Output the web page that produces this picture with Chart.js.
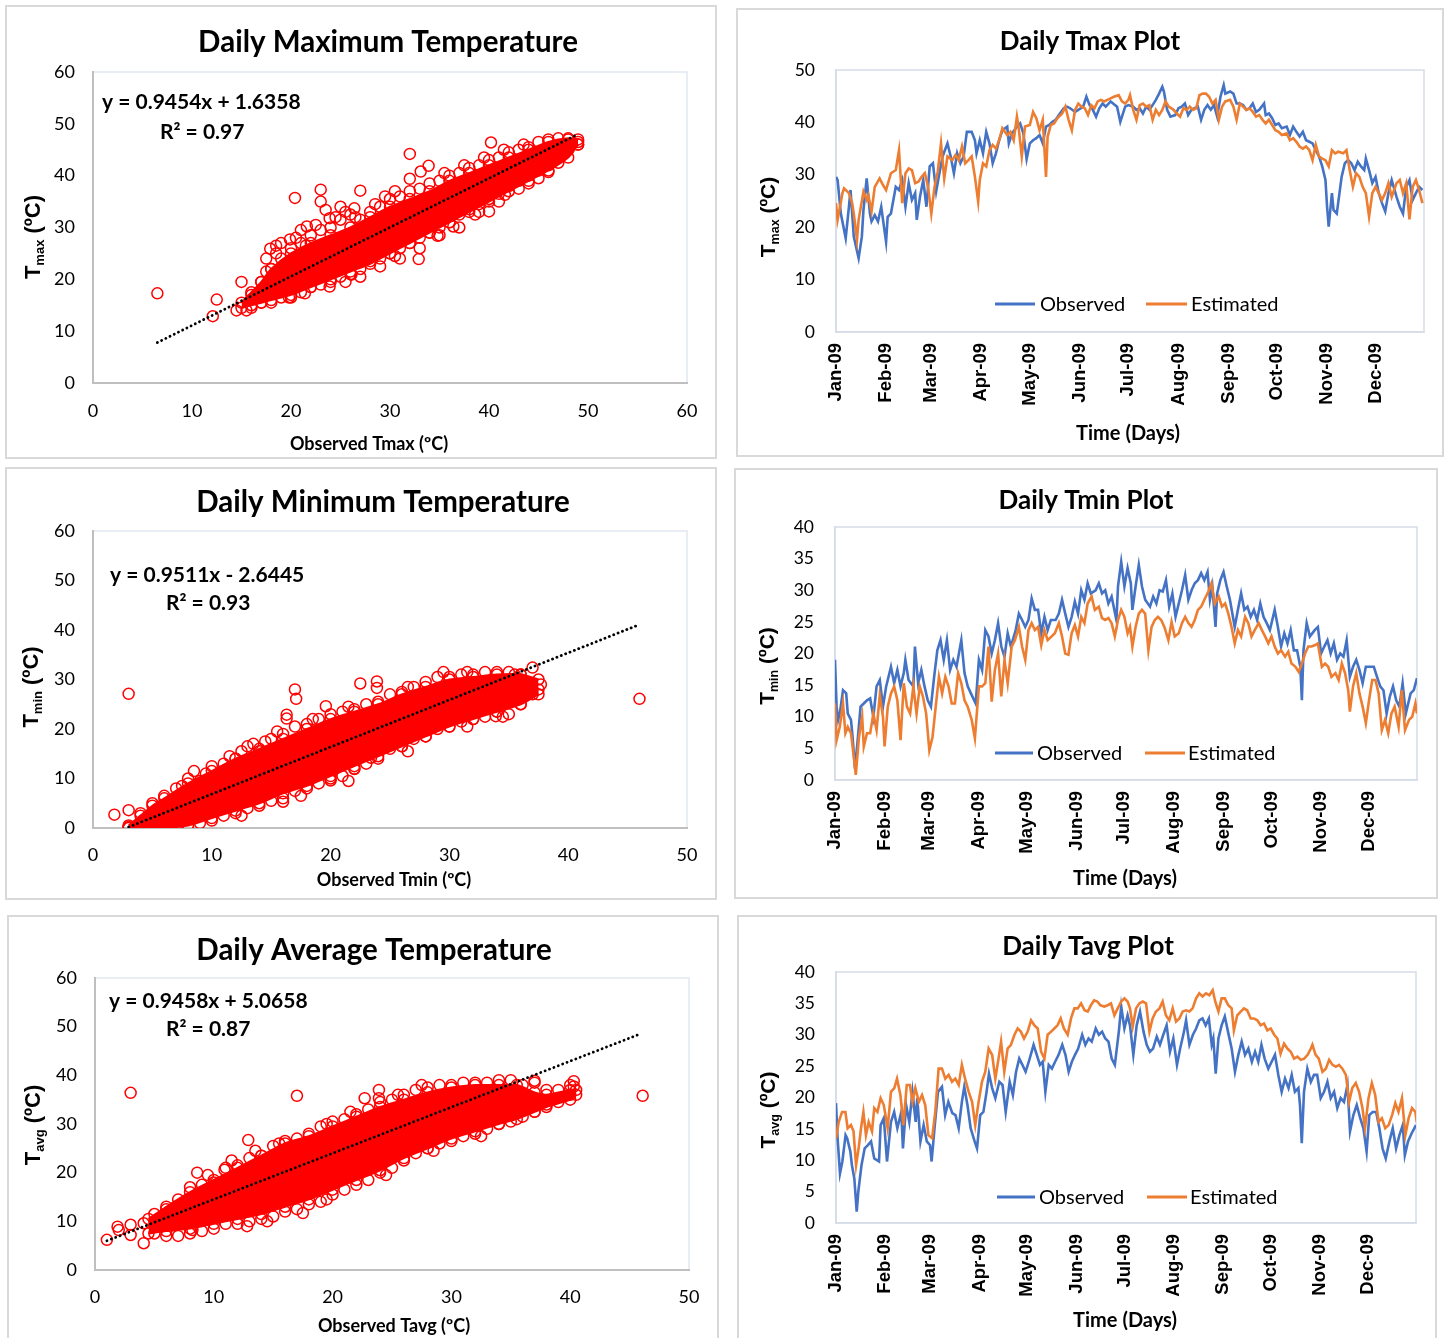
<!DOCTYPE html>
<html><head><meta charset="utf-8">
<script src="https://cdn.jsdelivr.net/npm/chart.js@4.4.1/dist/chart.umd.min.js"></script>
<style>
html,body{margin:0;padding:0;background:#fff;}
body{width:1448px;height:1338px;position:relative;overflow:hidden;}
.panel{position:absolute;}
.panel canvas{position:absolute;left:0;top:0;}
.panel .bd{position:absolute;left:0;top:0;right:0;bottom:0;border:2px solid #d9d9d9;pointer-events:none;}
</style></head><body>
<div class="panel" style="left:5px;top:5px;width:712px;height:454px"><canvas id="c1" width="712" height="454"></canvas><div class="bd"></div></div>
<div class="panel" style="left:736px;top:8px;width:708px;height:449px"><canvas id="c2" width="708" height="449"></canvas><div class="bd"></div></div>
<div class="panel" style="left:5px;top:467px;width:712px;height:433px"><canvas id="c3" width="712" height="433"></canvas><div class="bd"></div></div>
<div class="panel" style="left:734px;top:468px;width:704px;height:431px"><canvas id="c4" width="704" height="431"></canvas><div class="bd"></div></div>
<div class="panel" style="left:7px;top:915px;width:712px;height:425px"><canvas id="c5" width="712" height="425"></canvas><div class="bd"></div></div>
<div class="panel" style="left:737px;top:915px;width:700px;height:425px"><canvas id="c6" width="700" height="425"></canvas><div class="bd"></div></div>
<script>
// ================= DATA =================
const monthLabels = ['Jan-09','Feb-09','Mar-09','Apr-09','May-09','Jun-09','Jul-09','Aug-09','Sep-09','Oct-09','Nov-09','Dec-09'];
const monthStarts = [0,31,59,90,120,151,181,212,243,273,304,334];
const seriesNames = ['Observed','Estimated'];

// --- Daily Tmax: [day, value] ---
const tmaxObs = [[0,29.6],[1,29],[3,22.6],[6,17.9],[8,23.9],[9,27.1],[11,18.2],[14,14.1],[16,18.2],[17,23.3],[19,29.3],[21,22.6],[22,21.1],[24,22.3],[26,21.1],[28,23.9],[31,17.2],[32,22],[34,22.6],[37,27.7],[39,27.1],[41,29],[43,23.9],[45,28.4],[47,25.2],[49,26.5],[50,21.4],[52,25.8],[54,29],[56,23.9],[58,31.6],[60,32.2],[62,26.8],[64,30.3],[66,33.5],[69,36],[71,33.5],[73,30.3],[75,34.1],[77,32.2],[79,33.5],[81,38.2],[84,38.2],[86,36.6],[87,34.1],[89,36.6],[91,34.1],[93,38.2],[95,36],[97,32.2],[99,34.1],[101,36.6],[103,38.5],[106,39.2],[107,36],[109,37.9],[112,39.2],[114,39.8],[116,37.9],[118,33],[120,36],[122,36.6],[124,37],[126,37.6],[128,36],[130,39.2],[132,39.5],[134,40.1],[136,40.5],[138,41.4],[141,42.7],[143,43],[145,42.7],[148,42],[150,42.4],[153,43],[155,44.9],[157,43.3],[159,42.4],[161,41.1],[163,42.7],[165,43.6],[167,43],[170,44],[174,43],[176,40.1],[179,43],[181,43.3],[184,43],[186,42.4],[188,42.7],[190,41.7],[192,43],[194,42.4],[196,43.3],[198,44.3],[200,45.5],[202,46.8],[203,45.9],[205,42.4],[207,41.1],[210,41.4],[212,42.7],[214,43],[216,43.6],[218,41.4],[220,42.4],[222,42.7],[224,43],[226,40.5],[228,42.4],[230,43.3],[232,42.4],[234,43.3],[236,41.1],[238,44.9],[240,47.1],[241,45.5],[244,45.9],[246,45.5],[248,43.6],[250,43.6],[252,43.3],[254,42.4],[256,42.7],[258,43.6],[260,42],[262,42.4],[265,43.6],[266,41.4],[268,41.7],[270,40.8],[272,39.5],[274,39.8],[276,38.9],[279,39.2],[281,37.6],[283,39.2],[285,38.2],[287,37.3],[289,38.2],[291,36.6],[293,36.3],[295,36],[297,34.7],[299,33.5],[301,31.6],[303,29],[304,23.9],[305,20.1],[307,26.5],[308,23.3],[310,22.6],[313,29.6],[315,32.2],[317,32.8],[319,32.2],[321,30.9],[323,32.5],[325,31.6],[327,30.9],[328,33.1],[330,30.9],[332,28.4],[334,29.6],[336,26.5],[338,24.6],[340,23],[342,26.5],[344,29],[347,25.8],[349,23.9],[351,22.6],[353,27.7],[355,29],[357,25.2],[359,26.5],[361,27.7],[363,27.1]];
const tmaxEst = [[0,24.6],[1,21.4],[4,26.5],[5,27.4],[8,26.5],[10,24.6],[11,22.6],[13,17.6],[14,21.4],[17,26.8],[19,25.2],[20,26.1],[22,23],[24,27.7],[27,29.3],[29,28.1],[31,27.1],[34,30.3],[37,30.9],[39,34.7],[41,24.6],[43,30.3],[45,31.2],[47,30.9],[49,28.4],[51,28.7],[53,29.6],[55,30.3],[57,27.7],[59,22.6],[61,27.7],[63,30.6],[65,36],[67,29.3],[69,33.5],[72,32.8],[74,33.8],[76,32.8],[78,35.4],[80,32.2],[82,32.8],[84,33.5],[86,29.6],[88,24.9],[89,29],[91,32.2],[93,31.6],[95,34.7],[97,35.7],[99,35],[101,36.6],[103,38.9],[106,37.6],[108,38.2],[110,36.6],[112,41.1],[113,39.2],[115,33.5],[117,39.2],[120,39.5],[122,42],[124,40.8],[126,38.5],[128,40.5],[130,29.6],[131,37.3],[133,39.5],[135,39.8],[137,40.8],[140,41.7],[142,43],[144,40.5],[146,38.5],[148,42.4],[150,43.6],[152,43],[154,42.7],[156,41.4],[158,43.3],[160,42.7],[162,44],[164,44.3],[166,44],[168,44.3],[170,44.6],[172,44.9],[175,45.2],[177,44],[179,43.6],[181,44.3],[182,45.2],[184,42.4],[186,40.5],[188,43.3],[190,43.6],[192,43],[194,43.3],[196,40.5],[198,42.4],[200,41.4],[202,42.4],[204,44],[206,43],[209,42.4],[211,41.7],[213,41.1],[215,42.7],[217,42.4],[219,43],[221,42.4],[223,42.7],[225,45.2],[227,45.5],[229,45.5],[231,44.9],[233,43.6],[235,44.3],[237,40.5],[239,43],[241,44],[244,44.3],[246,43],[248,40.5],[250,43.6],[252,43],[254,42.4],[256,42.7],[258,42],[260,41.1],[262,41.4],[264,40.5],[266,39.8],[268,40.5],[270,39.5],[272,38.5],[274,38.2],[276,37.6],[279,37.9],[281,36.6],[283,37],[285,36.3],[287,35.4],[289,35],[291,35.4],[293,34.7],[295,32.8],[297,35.7],[299,33.5],[301,33.1],[303,32.8],[305,31.6],[307,34.7],[309,34.1],[311,34.4],[314,34.1],[316,34.7],[318,30.9],[320,27.7],[322,30.3],[324,29.6],[326,27.7],[328,26.5],[330,22],[332,26.5],[334,27.7],[336,26.5],[338,25.2],[340,26.5],[342,28.4],[344,25.8],[347,28.4],[349,29],[351,26.5],[353,28.4],[355,21.5],[357,27.7],[359,29],[361,27.1],[363,24.6]];

// --- Daily Tmin ---
const tminObs = [[0,19],[1,11.6],[2,9.5],[3,10.5],[5,14.2],[7,13.7],[8,10.5],[10,9.5],[11,6.8],[12.5,1.8],[14,5.8],[16,11.6],[18,12.1],[20,12.6],[22,12.9],[24,10],[26,14.8],[28,15.8],[30,11.6],[32,14.8],[35,17.9],[37,15.3],[39,17.4],[41,14.8],[43,16.9],[44,19],[46,15.8],[49,14.8],[50,21.1],[52,15.3],[54,17.4],[56,14.8],[58,12.6],[60,11.6],[62,16.3],[64,20.5],[66,22.1],[68,19],[70,22.1],[72,17.4],[74,19],[76,17.9],[79,22.1],[81,16.9],[83,14.8],[85,13.7],[88,12.1],[90,19],[92,17.4],[94,23.7],[96,22.7],[98,20],[100,22.1],[102,24.8],[104,21.1],[106,19.5],[108,23.2],[110,21.1],[113,23.7],[115,26.3],[117,25.3],[119,24.2],[121,25.3],[123,28.7],[125,26.9],[127,26.9],[129,23.2],[131,25.8],[133,23.7],[135,25.3],[138,25.3],[140,26.3],[142,28.5],[144,26.3],[146,24.2],[148,25.8],[150,28.2],[152,26.3],[154,30],[156,28.5],[158,31.1],[160,29.5],[163,30],[165,31.1],[167,29.5],[169,30],[171,27.9],[173,29],[176,25.3],[177,30.6],[179,34.5],[181,30.6],[183,33.5],[185,31.1],[186,26.9],[188,30.6],[190,34],[192,30.6],[194,28.5],[197,27.4],[199,29],[201,27.9],[203,30],[205,29.8],[207,31.6],[209,27.4],[211,29.5],[213,25.8],[215,27.9],[217,30],[219,32.4],[221,28.5],[223,30],[225,31.1],[227,31.6],[229,32.7],[231,31.6],[233,32.9],[234.5,28.5],[236,30.6],[238,24.2],[239,29.5],[241,31.6],[243,32.9],[245,30.6],[247,28.5],[250,24.2],[252,26.9],[254,29.5],[256,26.9],[258,27.4],[260,25.8],[262,26.9],[264,25.3],[266,27.9],[268,25.8],[270,24.8],[272,23.7],[275,26.9],[277,24.2],[279,21.1],[281,23.2],[283,21.6],[285,23.7],[287,20.5],[289,20.5],[291,17.9],[292,12.6],[293,20.5],[295,24.8],[297,22.7],[300,23.7],[302,24.2],[304,20],[306,21.1],[308,22.1],[310,20],[312,21.6],[314,19],[316,20],[318,19.5],[320,22.1],[322,16.3],[324,17.9],[326,19],[328,17.4],[330,15.3],[332,17.9],[335,17.9],[337,17.9],[339,16.3],[341,14.8],[343,14.2],[345,10.5],[347,13.2],[349,14.8],[351,12.6],[353,11.6],[355,15.3],[357,10.5],[360,13.7],[362,14.2],[364,16.1]];
const tminEst = [[0,12.1],[1,6.3],[3,8.4],[5,12.1],[6.5,7.4],[8,8.4],[10,7.4],[11.5,4.2],[13,0.8],[15,6.8],[17,10],[18,5.3],[20,7.4],[22,7.4],[24,10.5],[26,7.9],[28,13.4],[30,10],[31,5.3],[33,11.6],[35,13.7],[37,14.8],[39,12.6],[41,6.3],[43,15.3],[45,11.6],[47,10.5],[49,14.8],[51,10.5],[53,14.8],[55,13.2],[57,10.5],[59,4.7],[61,6.8],[63,11.6],[65,16.3],[67,13.7],[69,16.3],[71,14.8],[73,12.1],[75,12.1],[77,16.9],[79,15.3],[81,12.6],[83,11.6],[85.5,9.5],[87.5,6.6],[90,14.8],[92,14.8],[94,15.3],[96,21.1],[98,12.4],[100,17.4],[102,20],[104,13.2],[106,19],[108,15.3],[110.5,21.1],[112.5,22.1],[115,24.2],[117,21.1],[119,19],[121,23.7],[123,24.8],[125,23.7],[127,24.2],[129,21.3],[131,23.7],[133,22.1],[135.5,22.7],[137.5,23.2],[140,24.8],[142,22.7],[144,20],[146,19.8],[148,23.2],[150,24.5],[152,22.7],[154,25.8],[156,24.8],[158,27.9],[160.5,29],[162.5,26.9],[165,27.4],[167,25.6],[169,25.3],[171,25.6],[173,24.8],[175,22.7],[177,25.3],[179,26.9],[181,25.8],[183,23.2],[184.5,24.2],[186,21.1],[188,24.2],[190,26.3],[192,26.9],[194,26.3],[196,20.5],[198,24.2],[200,25.3],[202,25.8],[204,25.3],[206,24.2],[208.5,22.1],[210.5,25],[212.5,22.7],[215,23.2],[217,24.8],[219,25.8],[221,24.8],[223,24.2],[225,25.3],[227,26.9],[229,27.4],[231,28.5],[233.5,29.8],[235.5,31.1],[237.5,27.9],[240,29],[242,27.4],[244,27.9],[246,26.3],[248,24.2],[250,21.6],[252,23.7],[254,22.7],[256.5,25.8],[258.5,24.8],[260.5,22.7],[262.5,23.7],[265,24.8],[267,23.7],[269,22.7],[271,21.6],[273,22.7],[275,21.1],[277,20],[279,20.5],[281.5,19.5],[283.5,20.3],[285.5,18.4],[288,17.9],[290,17.1],[292,18.4],[294,20],[296,21.1],[298,21.1],[300,21.3],[302,21.6],[304.5,17.9],[306.5,18.4],[308.5,17.9],[310.5,16.3],[313,16.9],[315,15.8],[317,18.4],[319,16.9],[321,14.2],[322,10.8],[324,14.8],[326,16.9],[328,13.7],[330,11.6],[332,9],[334,12.6],[336,15.8],[338,15.8],[340,13.7],[342,7.9],[344,9.5],[346,7.4],[348,10.5],[350,11.6],[352.5,8.4],[354.5,14.2],[356.5,7.9],[359,9.5],[361,10],[363,12.1],[364,10.5]];

// --- Daily Tavg ---
const tavgObs = [[0,19.1],[1,13.5],[2.5,7.9],[4,9.8],[6,14],[7,13.5],[9,11.4],[10,9.2],[11.5,7.1],[13,1.8],[14,5],[16,9.2],[18,11.9],[20,12.4],[22,13],[24,10.3],[27,9.8],[28,15.6],[30,16.7],[32,9.8],[34.5,16.1],[36.5,17.7],[38.5,15.1],[41,17.7],[42,11.9],[44,18.8],[46,16.1],[48,20.9],[50,16.1],[51,19.9],[53,13],[55,15.6],[57,13],[59,12.4],[60,9.8],[62,15.6],[64,20.9],[66.5,21.7],[68.5,17.2],[70.5,19.3],[73,17.5],[75,17.2],[77,15.1],[79,19.3],[80.5,21.7],[82.5,18.8],[84.5,15.1],[87,13],[88.5,11.9],[90.5,17.2],[92.5,17.7],[94.5,20.9],[96,23.8],[98,21.5],[100,19.9],[102.5,22.5],[104.5,22],[106.5,17.7],[109,22.5],[111,20.4],[113,24.1],[115,26.2],[117,25.2],[119,24.1],[121,25.7],[124,28.4],[126,26.8],[128,25.2],[129.7,25.7],[131.4,20.9],[133.5,25.2],[135.5,24.6],[137.5,25.7],[139.7,26.8],[142,28.4],[144,26.8],[146,24.1],[148,25.7],[150,26.8],[152,27.8],[154.5,30],[156.5,28.4],[158.5,29.4],[160.5,28.9],[163,31],[165,30],[167,30.5],[169,29.4],[171,28.9],[173,26.2],[175,25.2],[177.5,30.5],[179,34.5],[181,31],[183,33.1],[184.5,31.5],[186.6,26.8],[188.7,31.5],[190.8,33.7],[193,30.5],[195,28.4],[197,27.3],[199,27.8],[201.3,29.7],[203.3,28.4],[205.4,30],[207.5,31.5],[209.6,27.3],[211.7,29.4],[214,25.2],[216,27.8],[218.4,30.5],[219.7,32.3],[221.8,28.4],[224,30],[226,31],[228,32.3],[230,32.6],[232,31.5],[234,32.6],[235.8,28.4],[236.8,29.4],[238.3,23.8],[240,29.4],[242,31.5],[244,32.9],[246,30.5],[248.3,27.8],[250.4,24.1],[252.5,26.8],[254.6,28.9],[256.7,26.8],[258.8,27.8],[261,25.7],[263,27.3],[265,25.7],[267,28.4],[269,26.2],[271.3,24.6],[273.4,25.7],[275.5,26.8],[277.6,23.6],[279.7,20.9],[281.8,23],[284,21.5],[286,23.6],[288,20.9],[290.2,21.5],[291.2,18.8],[292.3,12.7],[293.7,20.9],[295.8,24.6],[298,22.5],[300,23.6],[302,23.6],[304.2,19.9],[306.3,20.9],[308.4,22.5],[310.5,19.9],[312.6,20.9],[314.6,18.3],[316.7,19.9],[318.8,19.3],[321,22],[322.6,14.6],[324.7,17.2],[326.8,18.8],[329,16.7],[331,15.1],[333,11.4],[334.7,17.2],[336.8,17.7],[339,17.7],[341,15.1],[343,11.9],[345,10.3],[347.3,13],[349.4,15.1],[351.5,11.9],[353.6,14],[355.7,15.6],[357,10.8],[359,13],[361.3,14.3],[364,15.6]];
const tavgEst = [[0,13.5],[1.7,16.1],[3.8,17.7],[5.9,17.7],[7.3,15.1],[9.4,15.6],[11,14.6],[12.6,9.2],[14.2,11.9],[15.7,15.1],[17.2,17.7],[18.8,14],[20.5,16.1],[22.6,14.6],[24,18.3],[26,17.7],[28,19.9],[30,18.8],[32.4,15.1],[34.5,20.9],[36.6,21.5],[38.3,23],[40.4,20.4],[42.3,15.6],[44.4,22],[46.4,22],[48,19.3],[49.8,21.5],[52,19.3],[54,20.4],[56,18.8],[58,14],[60.3,13.5],[62.3,17.7],[64.4,24.6],[66.5,24.6],[68.6,23],[70.7,23.6],[72.8,22.5],[74.9,23],[77,22],[79,25.2],[81,23],[83.3,20.9],[85.4,19.3],[87.4,15.6],[89.5,19.3],[91.6,22.5],[93.7,24.1],[95.8,27.8],[98,26.8],[100,23],[102,26.2],[103.6,28.9],[105.6,24.1],[107.7,27.8],[109.8,28.4],[112,30],[114,31],[116,30.5],[118,29.4],[120.3,30.5],[122.4,32.3],[124.5,31.5],[126.6,31],[128.7,27.3],[130.8,26.2],[132.8,30],[135,30.5],[137,31],[139,31.5],[141,32.6],[143,31],[145.4,30],[147.5,32.6],[149.6,34.2],[151.7,34.2],[153.8,35],[156,33.9],[158,33.7],[160,34.7],[162,35.5],[164,35.3],[166,34.7],[168.4,34.5],[170.5,34.7],[172.6,35],[174.7,33.1],[176.8,34.2],[179,35.3],[181,35.8],[183,35.3],[184.5,34.2],[186.2,31.3],[188.3,34.2],[190.4,35],[192.5,35.3],[194.6,35],[196.7,30.5],[198.7,32.6],[200.8,33.7],[203,34.2],[205,35.3],[207,33.1],[209.2,32.3],[211.3,34.2],[213.4,32.1],[215.5,32.6],[217.6,33.7],[219.7,33.9],[221.8,33.7],[223.8,34.2],[226,35.8],[228,36.6],[230,36.1],[232.2,36.6],[234.3,36.3],[236.4,37.1],[238,35.3],[240,33.7],[242,35.8],[244,35.8],[246.2,34.7],[248.3,34.2],[249.7,30.7],[251.8,33.1],[254,33.7],[256,34.2],[258,33.9],[260.3,32.6],[262.3,32.6],[264.4,32.3],[266.5,31.5],[268.6,31.8],[270.7,30.7],[272.8,31],[275,30],[277,29.4],[279,27],[281.2,28.6],[283.3,27.8],[285.4,27.3],[287.5,26.2],[289.6,26.5],[291.7,26],[293.8,26.2],[296,26.8],[298,27.8],[299,28.4],[301,26.8],[303,26.2],[305.3,24.1],[307.4,24.6],[309.5,26],[311.6,25.2],[313.7,24.9],[315.7,25.2],[317.8,24.6],[320,23.6],[322,19.3],[324,21.5],[326.2,22.3],[328.3,20.9],[330.4,18.3],[332,15.1],[334.2,19.9],[336.3,22.3],[338.4,20.4],[340.5,16.1],[342.6,16.7],[344.7,15.1],[346.8,15.6],[349,17.2],[351,19.1],[353,17.7],[355.2,19.9],[357.3,14],[359.4,16.7],[361.5,18.3],[363.6,17.7],[364.5,16.1]];

// --- Scatter: Tmax (observed x, estimated y) ---
const tmaxBandX     = [15,16,17,18,20,22,24,26,28,30,32,34,36,38,40,42,44,46,48,49];
const tmaxBandUpper = [15.5,17.5,19.5,22,25,27,28.5,30,32,34,35.5,37,39,40.5,42,43.5,45,46.5,47.2,47];
const tmaxBandLower = [14.5,15,15.5,16,17,18.5,20,21.5,23,25,27,29,31,33,35,37,39,41,43.5,46];
const tmaxPoints = [[6.5,17.3],[12.1,12.9],[12.5,16.1],[15,19.5],[14.5,14],[15.5,14],[16,14.5],[20.4,35.7],[23,37.3],[23,35],[23.5,33.4],[23.9,31.8],[21.6,30.2],[19.9,27.7],[17.9,25.9],[27,37.1],[26.4,33.7],[32,44.2],[33.9,41.9],[33.1,40.8],[32,39.4],[40.2,46.4],[32.9,23.9],[40,33.1],[46,40.7],[26.1,20.9],[23.9,18.6],[19.8,16.5],[21.4,17.3],[34.8,28.4],[36.4,30.2],[38.6,32.5],[41.6,36.3],
 [16,17],[17,19.5],[17.5,21.5],[18,22],[18.5,25],[19,24],[19.5,23],[20,26],[21,27],[21.5,26.5],[22,28.5],[23,29.5],[24,30],[25,31.5],[25.5,33],[26,32.5],[27,31.5],[28,33],[29,34],[30,35.5],[31,36],[32,37],[33,37.5],[34,38.5],[35,39],[36,40],[37,40.5],[38,41.5],[39,42],[40,43],[41,43.5],[42,44.5],[43,45],[44,45.5],[45,46.5],[46,47],[47,47.2],[48,47],[49,46.5],
 [19,27],[20.5,28],[22.5,30.5],[24.5,32],[25,34],[21,29.5],[18.5,26.5],[17.5,24],[26.5,32],[28.5,34.5],[30.5,37],[29.5,36],[35.5,40.5],[37.5,42],[39.5,43.5],[41.5,45],[43.5,46],
 [17,15.5],[18,15.5],[19,16.5],[20,16.5],[21,17.5],[22,18.5],[23,19],[24,19.5],[25,20.5],[26,21],[27,22],[28,23.5],[29,24],[30,25],[31,26],[32,27],[33,28],[34,29],[35,30],[36,31],[37,32.5],[38,33.5],[39,34.5],[40,35.5],[41,36.5],[42,38],[43,39],[44,40],[45,41],[46,42],[47,43.5],[48,45],[49,46],
 [27,20.5],[29,22.5],[31,24],[33,26],[35,28.5],[37,30],[39,33],[41,35],[43,37.5],[45,39.5],[47,42.5],[44,38.5],[30.5,24.5],[25.5,19.5]];
const tmaxTrend = [[6.5,7.8],[49,48]];

// --- Scatter: Tmin ---
const tminBandX     = [3,4,5,6,8,10,12,14,16,18,20,22,24,26,28,30,32,34,36,37.5];
const tminBandUpper = [0.5,2.5,4.5,6,9,11.5,14,16,18,20,22,23.5,25,27,28.5,30,30.5,31,31,30];
const tminBandLower = [0,0,0,0,0.5,2,3.5,5,7,8.5,10.5,12.5,14.5,16.5,18.5,20.5,22,23.5,25,27];
const tminPoints = [[3,27.1],[46,26.1],[1.8,2.7],[3,3.6],[3,0.2],[17,28],[17.1,26.1],[22.5,29.2],[23.9,29.6],[23.9,28.3],[19.6,24.6],[16.3,22.9],[16.3,22.1],[37,32.4],[37.7,29],[37,28],[36,27.1],[33.9,22.6],[16,5.3],[20,9.6],[22,11.9],[23.4,14.2],
 [4,3],[5,5],[6,6.5],[7,8],[7.5,8.5],[8,10],[9,9.5],[9.5,11],[10,12.5],[11,13],[11.5,14.5],[12,14],[13,16.5],[13.5,17],[14,15.5],[15,18],[15.5,19.5],[16,19],[17,20.5],[18,21],[19,22],[20,23],[21,23.5],[22,24],[23,25],[24,25.5],[25,27],[26,27.5],[27,28.5],[28,29.5],[29,30.5],[30,30.5],[31,31],[32,31],[33,31.5],[34,31.5],[35,31.5],[36,31],
 [8.5,11.5],[12.5,15.5],[14.5,17.5],[18.5,22],[21.5,24.5],[26.5,28.5],[29.5,31.5],[31.5,31.5],
 [5,0],[6,0],[7,0.5],[8,0.5],[9,1],[10,1.5],[11,2.5],[12,3],[13,4],[14,4.5],[15,5.5],[16,6],[17,7.5],[18,8],[19,9],[20,10],[21,10.5],[22,12],[23,13],[24,14],[25,16],[26,16.5],[27,18],[28,18.5],[29,20],[30,20.5],[31,21.5],[32,22],[33,22.5],[34,23.5],[35,23],[36,25],[37,27],[37.5,28],[36.5,29.5],[35.5,31],[36,30],
 [12.5,2.5],[17.5,6.5],[21.5,9.5],[26.5,15.5],[31.5,20.5],[34.5,22.5]];
const tminTrend = [[3,0.2],[46,41.1]];

// --- Scatter: Tavg ---
const tavgBandX     = [4.5,6,8,10,12,14,16,18,20,22,24,26,28,30,32,34,35.5,37,38,40,40.5];
const tavgBandUpper = [10.5,13,16,18.5,21,23.5,26,27.5,29.5,31.5,33.5,35,36.5,37.5,38,38,38,36.5,36,37,37];
const tavgBandLower = [7.5,8,8.5,9.5,10.5,11.5,13,14.5,16.5,18.5,20.5,23,25,27,28.5,30,31,32.5,33.5,35,36];
const tavgPoints = [[3,36.4],[17,35.8],[46.1,35.8],[1,6.2],[1.9,8.9],[2,8.2],[3,9.3],[3,7.2],[4.1,5.5],[4.1,9.6],[12.9,26.7],[10.9,20.6],[8.6,20],[23.9,37],[23.9,35.3],[22.7,35.3],[8.2,8.2],[12.8,9],[17.5,11.7],[37,38.9],[40.3,38.8],[40.3,37.7],
 [5,11.5],[6,12.5],[7,14.5],[8,17],[9,17.5],[10,18],[11,21],[12,21.5],[13,23],[14,23.5],[15,25.5],[16,26.5],[17,27],[18,28],[19,29.5],[20,30.5],[21,31],[22,32],[23,33],[24,34.5],[25,35],[26,36],[27,37],[28,37.5],[29,38],[30,38],[31,38.5],[32,38.5],[33,38.5],[34,39],[35,39],[36,38],[37,38.5],[38,37],[39,37],[40,38],
 [9.5,19.5],[11.5,22.5],[13.5,24.5],[15.5,26],[19.5,30],[21.5,32.5],[25.5,36],[27.5,38],
 [5,7.5],[6,7],[7,7],[8,7.5],[9,8],[10,8.5],[11,9.5],[12,9.5],[13,10],[14,10.5],[15,11],[16,12],[17,12.5],[18,13.5],[19,14],[20,15.5],[21,16.5],[22,17.5],[23,18.5],[24,20],[25,21],[26,22.5],[27,24],[28,25],[29,26],[30,26.5],[31,27.5],[32,28],[33,29],[34,30],[35,30.5],[36,31.5],[37,32.5],[38,34],[39,34.5],[40,36],
 [14.5,10],[19.5,14.5],[24.5,19.5],[28.5,24.5],[32.5,27.5]];
const tavgTrend = [[1,6],[46,48.6]];

// ================= RENDERING =================
const FF = "Lato, 'Open Sans', sans-serif";
const FA = "'Liberation Sans', Arial, sans-serif";
const RED = '#ff0000', BLUE = '#4472c4', ORANGE = '#ed7d31';
const pts = arr => arr.map(p => ({x: p[0], y: p[1]}));
const band = (xs, ys) => xs.map((x, i) => ({x, y: ys[i]}));

const deco = {
  id: 'deco',
  beforeDraw(chart, args, o) {
    const ctx = chart.ctx, a = chart.chartArea;
    ctx.save();
    ctx.fillStyle = '#fff'; ctx.fillRect(0, 0, chart.width, chart.height);
    ctx.strokeStyle = o.frame; ctx.lineWidth = 1.5;
    ctx.strokeRect(a.left, a.top, a.right - a.left, a.bottom - a.top);
    ctx.restore();
  },
  afterDraw(chart, args, o) {
    const ctx = chart.ctx;
    ctx.save();
    ctx.fillStyle = '#000';
    (o.texts || []).forEach(t => {
      ctx.font = t.font; ctx.textAlign = t.align || 'left'; ctx.textBaseline = 'middle';
      ctx.fillText(t.text, t.x, t.y);
    });
    if (o.ytitle) {
      const yt = o.ytitle;
      ctx.translate(yt.x, yt.y); ctx.rotate(-Math.PI / 2);
      let total = 0;
      yt.parts.forEach(p => { ctx.font = 'bold ' + p.size + 'px ' + FA; p.w = ctx.measureText(p.text).width; total += p.w; });
      let x = -total / 2; ctx.textAlign = 'left'; ctx.textBaseline = 'alphabetic';
      yt.parts.forEach(p => { ctx.font = 'bold ' + p.size + 'px ' + FA; ctx.fillText(p.text, x, p.dy); x += p.w; });
      ctx.setTransform(1, 0, 0, 1, 0, 0);
    }
    if (o.legend) {
      const L = o.legend;
      L.items.forEach((it, i) => {
        const ds = chart.data.datasets[i];
        ctx.strokeStyle = ds.borderColor; ctx.lineWidth = 3;
        ctx.beginPath(); ctx.moveTo(it.x1, L.y); ctx.lineTo(it.x2, L.y); ctx.stroke();
        ctx.fillStyle = '#000'; ctx.font = L.font; ctx.textAlign = 'left'; ctx.textBaseline = 'middle';
        ctx.fillText(ds.label, it.tx, L.y + 1);
      });
    }
    ctx.restore();
  }
};

function scatterChart(id, c) {
  const el = document.getElementById(id), W = el.width, H = el.height;
  return new Chart(el, {
    type: 'scatter',
    data: { datasets: [
      {type: 'line', label: 'Linear trend', data: pts(c.trend), borderColor: '#000', borderWidth: 2.8, borderDash: [0.1, 4.6], borderCapStyle: 'round', pointRadius: 0, fill: false, order: 0},
      {label: 'Days', data: pts(c.points), pointRadius: 5.5, pointBorderWidth: 1.5, borderColor: RED, pointBorderColor: RED, backgroundColor: 'rgba(0,0,0,0)', pointBackgroundColor: 'rgba(0,0,0,0)', order: 1},
      {type: 'line', label: 'upper', data: band(c.bx, c.bu), borderColor: RED, borderWidth: 2, backgroundColor: RED, fill: '+1', pointRadius: 5.5, pointBorderWidth: 1.5, pointBorderColor: RED, pointBackgroundColor: 'rgba(0,0,0,0)', tension: 0.3, order: 2},
      {type: 'line', label: 'lower', data: band(c.bx, c.bl), borderColor: RED, borderWidth: 2, backgroundColor: RED, fill: false, pointRadius: 5.5, pointBorderWidth: 1.5, pointBorderColor: RED, pointBackgroundColor: 'rgba(0,0,0,0)', tension: 0.3, order: 3}
    ]},
    options: {
      responsive: false, animation: false, devicePixelRatio: 1, events: [],
      layout: {padding: {left: 0, top: c.area.top, right: W - c.area.right, bottom: 0}},
      plugins: {legend: {display: false}, tooltip: {enabled: false}, filler: {drawTime: 'beforeDatasetsDraw'},
        deco: {frame: '#e1e7f0', texts: c.texts, ytitle: c.ytitle}},
      scales: {
        x: {type: 'linear', min: 0, max: c.xmax, ticks: {stepSize: 10, padding: c.xpad, color: '#000', font: {family: FF, size: 18}},
            grid: {display: false, drawTicks: false}, border: {display: true, color: '#bfbfbf', width: 2},
            afterFit: s => { s.height = H - c.area.bottom; }},
        y: {type: 'linear', min: 0, max: 60, ticks: {stepSize: 10, padding: 18, color: '#000', font: {family: FF, size: 18}},
            grid: {display: false, drawTicks: false}, border: {display: true, color: '#bfbfbf', width: 2},
            afterFit: s => { s.width = c.area.left; }}
      }
    },
    plugins: [deco]
  });
}

function lineChart(id, c) {
  const el = document.getElementById(id), W = el.width, H = el.height;
  return new Chart(el, {
    type: 'line',
    data: { datasets: [
      {label: seriesNames[0], data: pts(c.obs), borderColor: BLUE, backgroundColor: BLUE, borderWidth: 2.6, pointRadius: 0, tension: 0, order: 2},
      {label: seriesNames[1], data: pts(c.est), borderColor: ORANGE, backgroundColor: ORANGE, borderWidth: 2.6, pointRadius: 0, tension: 0, order: 1}
    ]},
    options: {
      responsive: false, animation: false, devicePixelRatio: 1, events: [],
      layout: {padding: {left: 0, top: c.area.top, right: W - c.area.right, bottom: 0}},
      plugins: {legend: {display: false}, tooltip: {enabled: false},
        deco: {frame: '#d5dce8', texts: c.texts, ytitle: c.ytitle, legend: c.legend}},
      scales: {
        x: {type: 'linear', min: 0, max: 364,
            afterBuildTicks: ax => { ax.ticks = monthStarts.map(v => ({value: v})); },
            ticks: {autoSkip: false, minRotation: 90, maxRotation: 90, padding: 11, color: '#000', font: {family: FA, size: 18.5, weight: 'bold'},
                    callback: v => monthLabels[monthStarts.indexOf(v)]},
            grid: {display: false, drawTicks: false}, border: {display: true, color: '#d5dce8', width: 1.5},
            afterFit: s => { s.height = H - c.area.bottom; }},
        y: {type: 'linear', min: 0, max: c.ymax, ticks: {stepSize: c.ystep, padding: 21, color: '#000', font: {family: FF, size: 17.5}},
            grid: {display: false, drawTicks: false}, border: {display: true, color: '#d5dce8', width: 1.5},
            afterFit: s => { s.width = c.area.left; }}
      }
    },
    plugins: [deco]
  });
}

const tBold = s => 'bold ' + s + 'px ' + FF;
const tReg = s => s + 'px ' + FF;
const yParts = (sub, main, small, dy) => [{text: 'T', size: main, dy: 8}, {text: sub, size: small, dy: 8 + dy}, {text: ' (\u00baC)', size: main, dy: 8}];

scatterChart('c1', {
  trend: tmaxTrend, points: tmaxPoints, bx: tmaxBandX, bu: tmaxBandUpper, bl: tmaxBandLower, xmax: 60, xpad: 17,
  area: {left: 88, right: 682, top: 67, bottom: 378},
  texts: [
    {text: 'Daily Maximum Temperature', x: 383, y: 37, font: tBold(29.5), align: 'center'},
    {text: 'y = 0.9454x + 1.6358', x: 97, y: 97, font: tBold(21)},
    {text: 'R\u00b2 = 0.97', x: 155, y: 127, font: tBold(21)},
    {text: 'Observed Tmax (\u00baC)', x: 364, y: 439, font: tBold(18), align: 'center'}
  ],
  ytitle: {x: 27, y: 232, parts: yParts('max', 22, 13, 4)}
});

lineChart('c2', {
  obs: tmaxObs, est: tmaxEst, ymax: 50, ystep: 10,
  area: {left: 100, right: 688, top: 62, bottom: 324},
  texts: [
    {text: 'Daily Tmax Plot', x: 354, y: 34, font: tBold(26), align: 'center'},
    {text: 'Time (Days)', x: 392, y: 426, font: tBold(20), align: 'center'}
  ],
  ytitle: {x: 31, y: 209, parts: yParts('max', 21, 12.5, 4)},
  legend: {y: 296, font: tReg(20), items: [{x1: 259, x2: 299, tx: 304}, {x1: 410, x2: 451, tx: 455}]}
});

scatterChart('c3', {
  trend: tminTrend, points: tminPoints, bx: tminBandX, bu: tminBandUpper, bl: tminBandLower, xmax: 50, xpad: 16,
  area: {left: 88, right: 682, top: 64, bottom: 361},
  texts: [
    {text: 'Daily Minimum Temperature', x: 378, y: 35, font: tBold(29.5), align: 'center'},
    {text: 'y = 0.9511x - 2.6445', x: 105, y: 108, font: tBold(21)},
    {text: 'R\u00b2 = 0.93', x: 161, y: 136, font: tBold(21)},
    {text: 'Observed Tmin (\u00baC)', x: 389, y: 413, font: tBold(18), align: 'center'}
  ],
  ytitle: {x: 25, y: 220, parts: yParts('min', 22, 13, 4)}
});

lineChart('c4', {
  obs: tminObs, est: tminEst, ymax: 40, ystep: 5,
  area: {left: 101, right: 683, top: 59, bottom: 312},
  texts: [
    {text: 'Daily Tmin Plot', x: 352, y: 33, font: tBold(26), align: 'center'},
    {text: 'Time (Days)', x: 391, y: 411, font: tBold(20), align: 'center'}
  ],
  ytitle: {x: 32, y: 198, parts: yParts('min', 21, 12.5, 4)},
  legend: {y: 285, font: tReg(20), items: [{x1: 261, x2: 299, tx: 303}, {x1: 411, x2: 451, tx: 454}]}
});

scatterChart('c5', {
  trend: tavgTrend, points: tavgPoints, bx: tavgBandX, bu: tavgBandUpper, bl: tavgBandLower, xmax: 50, xpad: 16,
  area: {left: 88, right: 682, top: 63, bottom: 355},
  texts: [
    {text: 'Daily Average Temperature', x: 367, y: 35, font: tBold(29.5), align: 'center'},
    {text: 'y = 0.9458x + 5.0658', x: 102, y: 86, font: tBold(21)},
    {text: 'R\u00b2 = 0.87', x: 159, y: 114, font: tBold(21)},
    {text: 'Observed Tavg (\u00baC)', x: 387, y: 411, font: tBold(18), align: 'center'}
  ],
  ytitle: {x: 25, y: 210, parts: yParts('avg', 22, 13, 4)}
});

lineChart('c6', {
  obs: tavgObs, est: tavgEst, ymax: 40, ystep: 5,
  area: {left: 99, right: 679, top: 57, bottom: 308},
  texts: [
    {text: 'Daily Tavg Plot', x: 351, y: 32, font: tBold(26), align: 'center'},
    {text: 'Time (Days)', x: 388, y: 406, font: tBold(20), align: 'center'}
  ],
  ytitle: {x: 30, y: 195, parts: yParts('avg', 21, 12.5, 4)},
  legend: {y: 282, font: tReg(20), items: [{x1: 260, x2: 298, tx: 302}, {x1: 410, x2: 450, tx: 453}]}
});
</script>
</body></html>
